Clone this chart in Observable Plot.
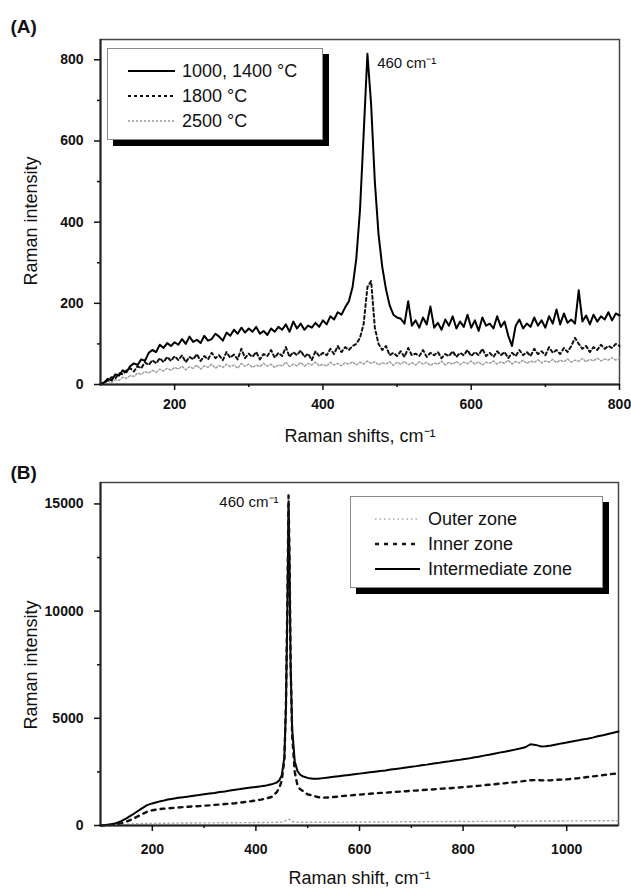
<!DOCTYPE html>
<html><head><meta charset="utf-8">
<script src="https://cdn.jsdelivr.net/npm/d3@7"></script>
<script src="https://cdn.jsdelivr.net/npm/@observablehq/plot@0.6"></script>
<style>
body{margin:0;background:#fff;}
#wrap{position:relative;width:631px;height:889px;font-family:'Liberation Sans',Arial,sans-serif;color:#111;overflow:hidden;}
.panel{position:absolute;left:0;}
.legend{position:absolute;box-sizing:border-box;background:#fff;border:1px solid #8a8a8a;box-shadow:6px 6px 0 #000;}
.row{position:absolute;left:0;height:22px;display:flex;align-items:center;font-size:18px;white-space:nowrap;color:#111;}
.row svg{display:block;}
</style></head>
<body><div id="wrap"></div>
<script>
// ---------- Panel A data ----------
const shiftsA = [
  100,105,110,115,120,125,130,135,140,145,150,155,160,165,170,175,180,185,190,195,
  200,205,210,215,220,225,230,235,240,245,250,255,260,265,270,275,280,285,290,295,
  300,305,310,315,320,325,330,335,340,345,350,355,360,365,370,375,380,385,390,395,
  400,405,410,415,420,425,430,435,440,445,450,455,460,465,470,475,480,485,490,495,
  500,505,510,515,520,525,530,535,540,545,550,555,560,565,570,575,580,585,590,595,
  600,605,610,615,620,625,630,635,640,645,650,655,660,665,670,675,680,685,690,695,
  700,705,710,715,720,725,730,735,740,745,750,755,760,765,770,775,780,785,790,795,800
];
const series1000A = [
  0,5,14,10,25,22,35,30,45,52,48,62,58,78,85,80,98,90,102,95,
  104,98,112,100,118,105,110,102,120,108,112,125,118,108,128,120,135,125,140,128,
  138,130,142,125,132,122,138,130,142,135,148,130,155,138,150,135,145,140,152,142,
  158,148,168,160,178,172,190,205,240,310,430,620,815,690,500,370,290,235,195,172,
  165,162,150,205,145,158,140,165,148,192,140,152,135,160,145,168,138,155,142,172,
  140,158,132,165,145,150,138,168,142,155,120,95,145,160,138,150,142,165,145,158,
  140,168,150,185,148,175,152,160,150,232,155,170,148,172,155,168,160,178,158,175,170
];
const series1800A = [
  0,5,10,18,15,28,25,35,40,32,45,40,55,48,60,52,65,55,68,58,
  70,60,72,55,68,62,75,58,70,62,78,65,72,60,80,66,74,62,88,65,
  76,68,80,62,75,70,85,66,78,70,92,68,80,72,84,68,76,60,82,70,
  78,72,88,75,95,80,92,85,95,100,115,150,240,255,140,100,85,95,72,78,
  70,82,68,90,72,76,70,85,68,78,72,80,65,75,70,82,68,78,72,85,
  70,80,72,88,70,78,68,82,72,80,65,78,70,85,72,80,70,88,75,82,
  72,92,78,85,75,90,80,95,115,100,88,95,80,92,85,98,88,95,90,100,95
];
const series2500A = [
  0,3,8,5,12,10,18,15,22,20,28,25,32,28,35,30,38,33,40,35,
  42,38,45,36,44,40,48,38,46,42,50,40,47,42,50,44,48,40,52,45,
  50,42,48,44,52,45,50,42,48,46,55,44,50,46,54,45,52,48,55,46,
  50,45,55,48,52,46,54,50,56,48,55,50,58,52,56,48,54,50,56,47,
  55,50,57,49,54,48,56,50,55,47,53,50,58,48,55,50,57,49,55,51,
  58,50,56,48,55,52,58,50,56,52,60,50,57,53,60,52,58,54,61,53,
  58,55,62,54,60,56,63,55,60,57,64,56,62,58,65,58,63,60,66,60,65
];
const ticksXA = [200, 400, 600, 800];
const minorXA = [300, 500, 700];
const ticksYA = [0, 200, 400, 600, 800];
const minorYA = [100, 300, 500, 700];
const legendA = ["1000, 1400 °C", "1800 °C", "2500 °C"];
const peakA = [{x: 461, y: 815, label: "460 cm⁻¹"}];

// ---------- Panel B data ----------
const shiftsB = [
  100,110,120,130,140,150,160,170,180,190,200,210,220,230,240,250,260,270,280,290,
  300,310,320,330,340,350,360,370,380,390,400,410,420,430,
  440,445,450,455,458,461,463,465,467,470,475,480,485,490,
  500,510,520,530,540,550,560,570,580,590,600,610,620,630,640,650,660,670,680,690,
  700,710,720,730,740,750,760,770,780,790,800,810,820,830,840,850,860,870,880,890,
  900,910,920,930,940,950,960,970,980,990,1000,1010,1020,1030,1040,1050,1060,1070,1080,1090,1100
];
const intermediateB = [
  0,20,60,110,200,330,480,640,800,950,1030,1100,1150,1210,1250,1290,1320,1350,1390,1420,
  1460,1490,1520,1560,1590,1630,1670,1700,1740,1770,1800,1830,1870,1920,
  2000,2100,2350,3200,5500,10500,15000,12000,7500,4500,3000,2550,2380,2300,
  2220,2180,2180,2210,2240,2270,2300,2330,2360,2390,2420,2450,2480,2510,2540,2570,2610,2640,2670,2710,
  2740,2770,2810,2840,2880,2910,2950,2980,3020,3050,3090,3120,3170,3210,3260,3300,3350,3400,3440,3490,
  3540,3590,3650,3790,3760,3690,3700,3730,3780,3830,3870,3920,3960,4010,4050,4100,4160,4210,4270,4330,4380
];
const innerB = [
  0,10,30,60,110,180,280,400,530,640,710,750,780,800,820,840,860,875,890,905,
  920,940,960,980,1000,1020,1040,1070,1100,1130,1170,1210,1260,1330,
  1550,1750,2100,3100,5600,10800,15400,12300,7600,4200,2500,1900,1700,1620,
  1450,1400,1320,1300,1310,1330,1350,1380,1400,1420,1440,1460,1480,1500,1520,1530,1550,1570,1580,1600,
  1620,1630,1650,1670,1680,1700,1720,1730,1750,1770,1790,1810,1830,1850,1880,1900,1920,1950,1970,2000,
  2020,2050,2080,2110,2120,2110,2100,2110,2130,2140,2150,2180,2200,2230,2260,2290,2320,2350,2380,2410,2430
];
const outerB = [
  0,5,15,30,45,60,72,82,90,96,100,103,106,108,110,112,114,116,118,120,
  121,123,124,125,128,128,130,133,133,135,138,139,141,144,
  150,155,165,190,230,280,300,270,220,190,170,160,155,152,
  150,149,150,152,152,154,156,156,158,160,160,162,164,164,166,168,168,170,172,172,
  174,176,176,178,180,180,182,184,184,186,187,189,190,191,193,194,195,197,198,199,
  200,202,204,204,206,208,208,210,212,212,214,216,216,218,220,220,222,224,224,226,228
];
const ticksXB = [200, 400, 600, 800, 1000];
const minorXB = [300, 500, 700, 900];
const ticksYB = [0, 5000, 10000, 15000];
const minorYB = [2500, 7500, 12500];
const legendB = ["Outer zone", "Inner zone", "Intermediate zone"];
const peakB = [{x: 463, y: 15000, label: "460 cm⁻¹"}];

// ---------- styles ----------
const FONT = "'Liberation Sans', Arial, Helvetica, sans-serif";
const lineStyles = {
  solid:  {stroke: "#000", strokeWidth: 2, dash: null},
  dashedA: {stroke: "#111", strokeWidth: 2, dash: "3,3"},
  dottedA: {stroke: "#9a9a9a", strokeWidth: 1.4, dash: "2,2"},
  dashedB: {stroke: "#111", strokeWidth: 2.4, dash: "4,5"},
  dottedB: {stroke: "#a8a8a8", strokeWidth: 1.4, dash: "1.5,3"}
};
function lineMark(xs, ys, st) {
  const o = {x: xs, y: ys, stroke: st.stroke, strokeWidth: st.strokeWidth, strokeLinejoin: "round"};
  if (st.dash) o.strokeDasharray = st.dash;
  return Plot.line(xs, o);
}
function axes(tx, mx, ty, my, padX) {
  const common = {fontSize: 14, fontWeight: "bold", tickFormat: "d", label: null, strokeWidth: 1.5};
  return [
    Plot.ruleY([0], {stroke: "#222", strokeWidth: 2}),
    Plot.axisX({...common, ticks: tx, tickSize: 6, tickPadding: padX}),
    Plot.axisX({ticks: mx, tickSize: 3, text: null, label: null, strokeWidth: 1.5}),
    Plot.axisY({...common, ticks: ty, tickSize: 6, tickPadding: 11}),
    Plot.axisY({ticks: my, tickSize: 3, text: null, label: null, strokeWidth: 1.5})
  ];
}

const chartA = Plot.plot({
  width: 631, height: 430,
  marginTop: 39, marginRight: 12, marginBottom: 46, marginLeft: 100,
  style: {fontFamily: FONT, color: "#111", background: "transparent", overflow: "visible"},
  x: {domain: [100, 800]},
  y: {domain: [0, 850]},
  marks: [
    Plot.frame({stroke: "#444", strokeWidth: 1.5}),
    Plot.ruleX([100], {stroke: "#222", strokeWidth: 2}),
    lineMark(shiftsA, series2500A, lineStyles.dottedA),
    lineMark(shiftsA, series1800A, lineStyles.dashedA),
    lineMark(shiftsA, series1000A, lineStyles.solid),
    ...axes(ticksXA, minorXA, ticksYA, minorYA, 9),
    Plot.text(["Raman intensity"], {text: d => d, frameAnchor: "left", rotate: -90, dx: -69, dy: 9, fontSize: 18, textAnchor: "middle", lineAnchor: "middle"}),
    Plot.text(["Raman shifts, cm⁻¹"], {text: d => d, frameAnchor: "bottom", dy: 52, fontSize: 18, lineAnchor: "middle"}),
    Plot.text(["(A)"], {text: d => d, frameAnchor: "top-left", dx: -90, dy: -13, fontSize: 19, fontWeight: "bold", textAnchor: "start", lineAnchor: "middle"}),
    Plot.text(peakA, {x: "x", y: "y", text: "label", textAnchor: "start", dx: 9, dy: 9, fontSize: 15})
  ]
});

const chartB = Plot.plot({
  width: 631, height: 459,
  marginTop: 52, marginRight: 13, marginBottom: 64, marginLeft: 100,
  style: {fontFamily: FONT, color: "#111", background: "transparent", overflow: "visible"},
  x: {domain: [100, 1100]},
  y: {domain: [0, 16000]},
  marks: [
    Plot.frame({stroke: "#444", strokeWidth: 1.5}),
    Plot.ruleX([100], {stroke: "#222", strokeWidth: 2}),
    lineMark(shiftsB, outerB, lineStyles.dottedB),
    lineMark(shiftsB, intermediateB, lineStyles.solid),
    lineMark(shiftsB, innerB, lineStyles.dashedB),
    ...axes(ticksXB, minorXB, ticksYB, minorYB, 13),
    Plot.text(["Raman intensity"], {text: d => d, frameAnchor: "left", rotate: -90, dx: -69, dy: 11, fontSize: 18, textAnchor: "middle", lineAnchor: "middle"}),
    Plot.text(["Raman shift, cm⁻¹"], {text: d => d, frameAnchor: "bottom", dy: 53, fontSize: 18, lineAnchor: "middle"}),
    Plot.text(["(B)"], {text: d => d, frameAnchor: "top-left", dx: -90, dy: -10, fontSize: 19, fontWeight: "bold", textAnchor: "start", lineAnchor: "middle"}),
    Plot.text(peakB, {x: "x", y: "y", text: "label", textAnchor: "end", dx: -10, dy: -2, fontSize: 15})
  ]
});

const wrap = document.getElementById("wrap");
chartA.classList.add("panel"); chartA.style.top = "0px";
chartB.classList.add("panel"); chartB.style.top = "430px";
wrap.appendChild(chartA);
wrap.appendChild(chartB);

function legend(labels, styleKeys, box) {
  const div = document.createElement("div");
  div.className = "legend";
  Object.assign(div.style, {left: box.left + "px", top: box.top + "px", width: box.w + "px", height: box.h + "px"});
  labels.forEach((lab, i) => {
    const st = lineStyles[styleKeys[i]];
    const row = document.createElement("div");
    row.className = "row";
    row.style.top = (box.rows[i] - 11) + "px";
    row.style.left = box.sx + "px";
    const ns = "http://www.w3.org/2000/svg";
    const svg = document.createElementNS(ns, "svg");
    svg.setAttribute("width", box.sw); svg.setAttribute("height", 10);
    const ln = document.createElementNS(ns, "line");
    ln.setAttribute("x1", 0); ln.setAttribute("x2", box.sw);
    ln.setAttribute("y1", 5); ln.setAttribute("y2", 5);
    ln.setAttribute("stroke", st.stroke); ln.setAttribute("stroke-width", st.strokeWidth);
    if (st.dash) ln.setAttribute("stroke-dasharray", st.dash);
    svg.appendChild(ln);
    const span = document.createElement("span");
    span.textContent = lab;
    span.style.marginLeft = box.gap + "px";
    row.appendChild(svg); row.appendChild(span);
    div.appendChild(row);
  });
  wrap.appendChild(div);
}
legend(legendA, ["solid", "dashedA", "dottedA"], {left: 107, top: 48, w: 216, h: 92, rows: [22, 47, 72], sx: 20, sw: 47, gap: 7});
legend(legendB, ["dottedB", "dashedB", "solid"], {left: 350, top: 496, w: 253, h: 92, rows: [22, 47, 72], sx: 24, sw: 45, gap: 8});
</script></body></html>
